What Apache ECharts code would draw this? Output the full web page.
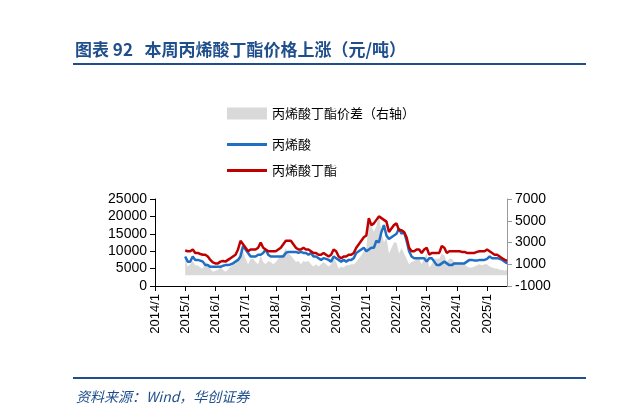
<!DOCTYPE html>
<html>
<head>
<meta charset="utf-8">
<script src="https://cdn.jsdelivr.net/npm/echarts@6/dist/echarts.min.js"></script>
<style>
body{margin:0;background:#fff;font-family:"Noto Sans CJK SC",sans-serif;}
#title{position:absolute;left:75px;top:36px;font-size:17px;font-weight:bold;color:#1f4e8c;}
#line1{position:absolute;left:73px;top:63px;width:513px;height:2px;background:#1f4e8c;}
#line2{position:absolute;left:73px;top:377px;width:513px;height:2px;background:#1f4e8c;}
#src{position:absolute;left:76px;top:386px;font-size:14px;font-style:italic;color:#1f4e8c;}
#chart{position:absolute;left:0;top:0;width:619px;height:417px;}
</style>
</head>
<body>
<div id="chart"></div>
<div id="title">图表 92&nbsp;&nbsp;&nbsp;本周丙烯酸丁酯价格上涨（元/吨）</div>
<div id="line1"></div>
<div id="line2"></div>
<div id="src">资料来源：Wind，华创证券</div>
<script>
// 月度数据，起始 2015/1
var startYear = 2015;
var acid = [8500,7000,7000,8500,7500,7500,7300,7000,6000,6000,5500,5500,
  5500,5500,5500,5800,6000,6000,6200,6500,7000,7500,8500,11500,
  10500,9500,8500,8500,8500,9000,9000,9500,10500,9000,8500,8500,
  8500,8500,8500,8500,9500,9800,9800,9800,9800,9500,9800,9500,
  9500,9000,9500,8500,8500,8000,7500,8000,7800,7500,7000,8500,
  8000,7500,7000,7500,7000,7500,7500,8000,9500,10000,10500,11000,
  10000,10500,11000,11000,13000,12500,15500,17500,14500,13500,14000,14500,
  15000,16500,15000,15500,13000,10000,8500,8000,8000,8000,8000,8000,
  7000,8000,8000,7000,6000,6000,6500,7000,6500,6000,6000,6500,
  6500,6500,6500,6500,7000,7500,7500,7300,7300,7500,7500,7500,
  7800,8500,8000,8000,8000,7800,7500,7000,6500];
var ester = [10200,10000,10000,10500,9500,9500,9200,9000,9000,8500,7500,6800,
  6500,6500,7000,7200,7000,7500,8000,8500,9000,10500,13000,12000,
  11000,10000,10500,10500,10500,11000,12500,11000,10500,10000,10000,10000,
  10000,10500,11000,12000,13000,13000,13000,12000,11000,10500,10500,11000,
  10500,10500,10000,9500,9500,9000,9000,9500,9000,8500,9000,10500,
  10000,8500,8000,8500,8500,9000,9000,9500,11000,12000,13000,14000,
  14500,19500,17500,18000,19000,20000,19500,19000,18500,15500,16500,17500,
  18000,16000,16000,15500,14000,11000,10000,10000,10500,10500,9500,10500,
  11000,9000,9500,9500,9500,9500,11500,11000,9500,10000,10000,10000,
  10000,10000,9800,9800,9500,9500,9500,9500,9800,10000,10000,10000,
  10500,10000,9500,9000,9000,8500,8000,7500,7300];
var spread = [1500,800,1000,1300,900,900,700,600,1200,1000,600,300,
  400,500,700,500,300,500,800,1000,1000,1500,2500,2200,
  1500,1000,1500,1500,1200,1000,1800,1200,1000,1300,1200,1000,
  1200,1500,1800,2000,2500,2000,1800,1500,1200,1300,1000,1300,
  1200,1300,1000,800,1000,800,1000,1200,1000,800,1000,1500,
  1200,600,800,700,900,900,1000,1000,1200,1500,1800,2200,
  2500,5000,4500,4000,4500,5500,4000,3000,3500,2000,2500,3000,
  3000,2000,2500,2000,1500,1000,1200,1300,1500,1500,1000,1500,
  2000,700,1000,1500,1500,1500,2000,1800,1200,1500,1500,1200,
  1200,1200,1000,1000,800,700,700,800,900,1000,900,1000,
  1000,800,700,600,600,500,500,400,500];

function pairs(arr){
  return arr.map(function(v,i){ return [startYear + i/12, v]; });
}

var chart = echarts.init(document.getElementById('chart'));
var font = {fontFamily:'Liberation Sans, Arial', fontSize:14, color:'#000', formatter:function(v){return String(v);}};
var legendText = {fontFamily:'Noto Sans CJK SC', fontSize:13, color:'#000'};
chart.setOption({
  animation:false,
  legend:[{
    left:222, top:102, itemWidth:40, itemHeight:12, textStyle:legendText,
    data:[{name:'丙烯酸丁酯价差（右轴）', icon:'rect'}]
  },{
    orient:'vertical', left:222, top:133, itemGap:13, itemWidth:40, itemHeight:3,
    textStyle:legendText,
    data:[{name:'丙烯酸', icon:'rect', itemStyle:{color:'#1f6fc5'}},
          {name:'丙烯酸丁酯', icon:'rect', itemStyle:{color:'#c00000'}}]
  }],
  grid:{left:155, right:112, top:199, bottom:131},
  xAxis:{
    type:'value', min:2014, max:2025.66, interval:1,
    axisLine:{lineStyle:{color:'#000'}},
    axisTick:{lineStyle:{color:'#000'}},
    splitLine:{show:false},
    axisLabel:{rotate:90, fontSize:13, showMaxLabel:false, fontFamily:'Liberation Sans, Arial', color:'#000',
      formatter:function(v){return Math.round(v)+'/1';}}
  },
  yAxis:[{
    type:'value', min:0, max:25000, interval:5000,
    axisLine:{show:true, lineStyle:{color:'#000'}},
    axisTick:{show:true, lineStyle:{color:'#000'}},
    splitLine:{show:false},
    axisLabel:font
  },{
    type:'value', min:-1000, max:7000, interval:2000,
    axisLine:{show:true, lineStyle:{color:'#999'}},
    axisTick:{show:true, lineStyle:{color:'#999'}},
    splitLine:{show:false},
    axisLabel:font
  }],
  series:[
    {name:'丙烯酸丁酯价差（右轴）', type:'line', yAxisIndex:1, data:pairs(spread),
     showSymbol:false, lineStyle:{width:0}, itemStyle:{color:'#d9d9d9'},
     areaStyle:{color:'#d9d9d9', opacity:1}},
    {name:'丙烯酸', type:'line', data:pairs(acid), showSymbol:false,
     lineStyle:{width:2.5, color:'#1f6fc5'}, itemStyle:{color:'#1f6fc5'}},
    {name:'丙烯酸丁酯', type:'line', data:pairs(ester), showSymbol:false,
     lineStyle:{width:2.5, color:'#c00000'}, itemStyle:{color:'#c00000'}}
  ]
});
</script>
</body>
</html>
